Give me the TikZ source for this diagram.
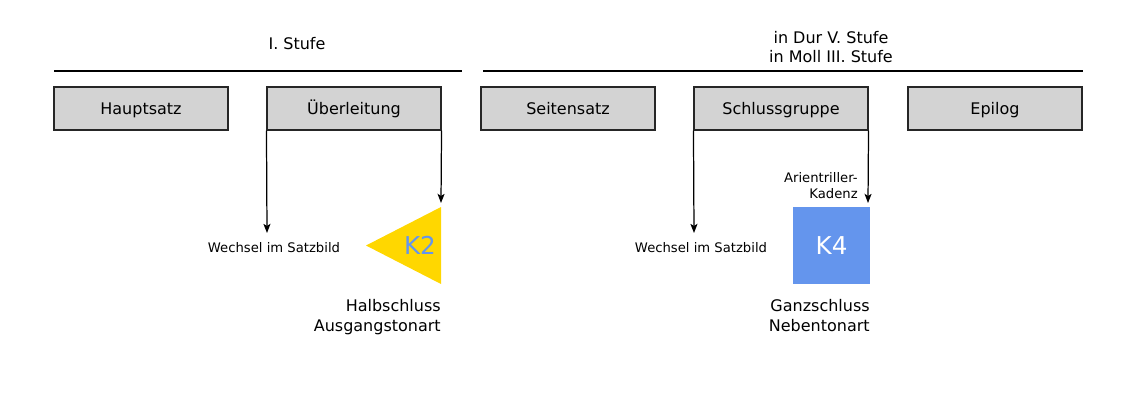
\documentclass[tikz,border=0pt]{standalone}
\usepackage{fontspec}
\setmainfont{DejaVu Sans}
\usetikzlibrary{arrows.meta}

\definecolor{boxgray}{HTML}{D3D3D3}
\definecolor{kgold}{HTML}{FFD700}
\definecolor{kblue}{HTML}{6495ED}

\tikzset{
    part/.style={draw=black!85, line width=0.6pt, fill=boxgray, minimum width=174*0.02cm,
        minimum height=43*0.02cm, inner sep=0pt, text height=6.6pt, text depth=0pt,
        font=\fontsize{9.1}{11}\selectfont},
    bigtext/.style={font=\fontsize{9.1}{11.3}\selectfont, align=right, inner sep=0pt},
    smalltext/.style={font=\fontsize{7.5}{9}\selectfont, inner sep=0pt},
    down/.style={line width=0.7pt, -{Stealth[length=5.2pt, width=4pt, inset=1.2pt]}}
}

\begin{document}
\begin{tikzpicture}[x=0.02cm, y=-0.02cm]
    \useasboundingbox (0,0) rectangle (1123,400);

    % Headings
    \node[bigtext, align=center] (stufeI) at (297,44) {I. Stufe};
    \node[bigtext, align=center] (stufeV) at (831,47) {in Dur V. Stufe\\in Moll III. Stufe};
    \draw[line width=0.6pt] (54,71) -- (462,71);
    \draw[line width=0.6pt] (483,71) -- (1083,71);

    % Sections
    \node[part] (haupt) at (141,108.5) {Hauptsatz};
    \node[part] (ueber) at (354,108.5) {Überleitung};
    \node[part] (seiten) at (568,108.5) {Seitensatz};
    \node[part] (schluss) at (781,108.5) {Schlussgruppe};
    \node[part] (epilog) at (995,108.5) {Epilog};

    % Cadence K2
    \fill[kgold] (441,207) -- (441,284) -- (366,245.5) -- cycle;
    \node[font=\fontsize{14}{16}\selectfont, text=kblue, inner sep=0pt] (ktwo) at (420,245) {K2};
    \coordinate (ueberL) at (267,233);
    \coordinate (ueberR) at (441,203);
    \draw[down] (ueber.south west) -- (ueberL);
    \draw[down] (ueber.south east) -- (ueberR);
    \node[smalltext] (wechselA) at (274,248) {Wechsel im Satzbild};
    \node[bigtext, anchor=north east] (halb) at (441,299) {Halbschluss\\Ausgangstonart};

    % Cadence K4
    \node[fill=kblue, minimum size=77*0.02cm, inner sep=0pt, text=white,
        font=\fontsize{14}{16}\selectfont] (kfour) at (831.5,245.5) {K4};
    \coordinate (schlussL) at (694,233);
    \coordinate (schlussR) at (868,203);
    \draw[down] (schluss.south west) -- (schlussL);
    \draw[down] (schluss.south east) -- (schlussR);
    \node[smalltext] (wechselB) at (701,248) {Wechsel im Satzbild};
    \node[smalltext, align=right, anchor=east, font=\fontsize{7.5}{9.1}\selectfont] (triller) at (858,186) {Arientriller-\\Kadenz};
    \node[bigtext, anchor=north east] (ganz) at (870,299) {Ganzschluss\\Nebentonart};
\end{tikzpicture}
\end{document}
